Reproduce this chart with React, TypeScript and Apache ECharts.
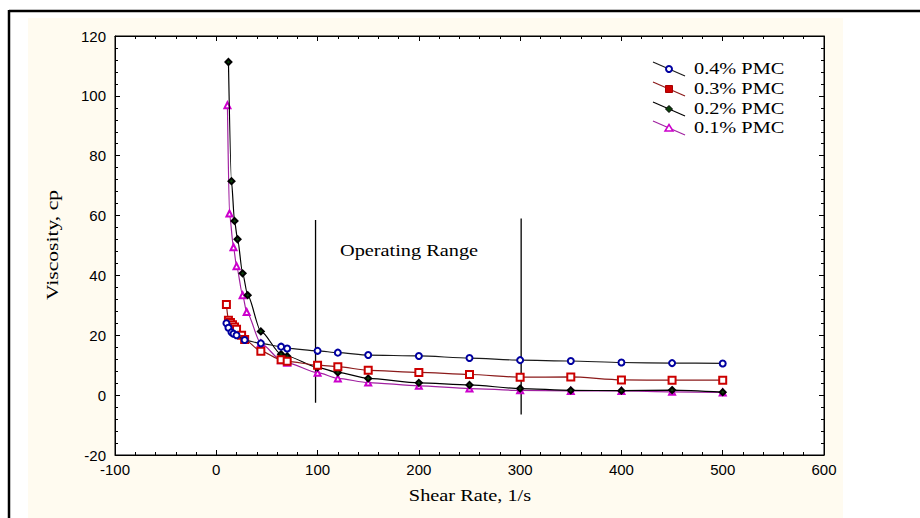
import React, { useEffect, useRef } from "react";
import * as echarts from "echarts";

// ---- data ----
const seriesNames = ["0.4% PMC", "0.3% PMC", "0.2% PMC", "0.1% PMC"];

const shear04 = [10, 12, 15, 17, 20, 28, 44, 64, 70, 100, 120, 150, 200, 250, 300, 350, 400, 450, 500];
const visc04 = [24, 22.5, 21, 20.5, 20, 18.4, 17.3, 16.2, 15.6, 14.8, 14.2, 13.4, 13.1, 12.4, 11.7, 11.4, 10.9, 10.7, 10.6];

const shear03 = [10, 12, 14, 16, 18, 20, 25, 28, 44, 64, 70, 100, 120, 150, 200, 250, 300, 350, 400, 450, 500];
const visc03 = [30.3, 25, 24.3, 23.5, 22.8, 22, 20, 18.6, 14.7, 11.8, 11.3, 10, 9.5, 8.3, 7.6, 6.9, 6, 6.1, 5.1, 5.0, 5.0];

const shear02 = [12, 15, 18, 21, 26, 31, 44, 64, 70, 100, 120, 150, 200, 250, 300, 350, 400, 450, 500];
const visc02 = [111.3, 71.5, 58.2, 52.1, 40.7, 33.4, 21.3, 13.7, 13, 9.3, 7.6, 5.6, 4.1, 3.4, 2.2, 1.6, 1.5, 1.7, 1.0];

const shear01 = [11, 13, 17, 20, 26, 30, 44, 64, 70, 100, 120, 150, 200, 250, 300, 350, 400, 450, 500];
const visc01 = [96.9, 60.7, 49.4, 43.1, 33.4, 27.8, 17.3, 11.7, 10.8, 7.5, 5.6, 4.2, 3.1, 2.2, 1.6, 1.4, 1.4, 1.1, 0.9];

// operating range boundary lines: [x, yTop, yBottom]
const rangeLow = [98, 58.5, -2.5];
const rangeHigh = [301, 59, -6.5];

const xTicks = { min: -100, max: 600, interval: 100 };
const yTicks = { min: -20, max: 120, interval: 20 };

const annotationText = "Operating Range";
const xTitle = "Shear Rate, 1/s";
const yTitle = "Viscosity, cp";

const zip = (xs: number[], ys: number[]) => xs.map((x, i) => [x, ys[i]]);

const SERIF = "'Liberation Serif', 'Times New Roman', serif";
const SANS = "Liberation Sans";

export default function App() {
  const ref = useRef<HTMLDivElement>(null);

  useEffect(() => {
    if (!ref.current) return;
    const chart = echarts.init(ref.current, undefined, { renderer: "svg" });

    const styles = [
      { line: "#1a1a1a", symbol: "circle", size: 6, fill: "#ffffff", border: "#0000a0" },
      { line: "#8b1a1a", symbol: "rect", size: 7, fill: "#ffffff", border: "#cc0000" },
      { line: "#000000", symbol: "diamond", size: 6, fill: "#0a400a", border: "#000000" },
      { line: "#a020a0", symbol: "triangle", size: 6, fill: "#ffffff", border: "#cc00cc" },
    ];
    const datasets = [zip(shear04, visc04), zip(shear03, visc03), zip(shear02, visc02), zip(shear01, visc01)];

    const dataSeries = datasets.map((d, i) => ({
      name: seriesNames[i],
      type: "line",
      data: d,
      smooth: 0.25,
      smoothMonotone: "x",
      symbol: styles[i].symbol,
      symbolSize: styles[i].size,
      lineStyle: { color: styles[i].line, width: 1.2 },
      itemStyle: { color: styles[i].fill, borderColor: styles[i].border, borderWidth: 2 },
      z: 3 + (3 - i),
    }));

    const rangeSeries = [rangeLow, rangeHigh].map((r) => ({
      type: "line",
      data: [
        [r[0], r[1]],
        [r[0], r[2]],
      ],
      symbol: "none",
      lineStyle: { color: "#000", width: 1.3 },
      z: 2,
      silent: true,
    }));

    const legendRows = [69, 89, 109, 128];
    const legendGraphics: any[] = [];
    legendRows.forEach((cy, i) => {
      legendGraphics.push({
        type: "line",
        shape: { x1: 653, y1: cy - 7, x2: 685, y2: cy + 7 },
        style: { stroke: styles[i].line, lineWidth: 1.2 },
      });
      const mx = 669;
      const my = cy;
      if (i === 0) {
        legendGraphics.push({ type: "circle", shape: { cx: mx, cy: my, r: 3 }, style: { fill: "#fff", stroke: styles[i].border, lineWidth: 2 } });
      } else if (i === 1) {
        legendGraphics.push({ type: "rect", shape: { x: mx - 3.5, y: my - 3.5, width: 7, height: 7 }, style: { fill: "#cc0000", stroke: "#aa0000", lineWidth: 1 } });
      } else if (i === 2) {
        legendGraphics.push({ type: "polygon", shape: { points: [[mx, my - 3.5], [mx + 3.5, my], [mx, my + 3.5], [mx - 3.5, my]] }, style: { fill: "#0a400a", stroke: "#000", lineWidth: 1 } });
      } else {
        legendGraphics.push({ type: "polygon", shape: { points: [[mx, my - 3.5], [mx + 4, my + 3], [mx - 4, my + 3]] }, style: { fill: "#fff", stroke: "#cc00cc", lineWidth: 1.5 } });
      }
      legendGraphics.push({
        type: "text",
        x: 694,
        y: cy,
        scaleX: 1.27,
        style: { text: seriesNames[i], font: `16px ${SERIF}`, fill: "#000", textAlign: "left", textVerticalAlign: "middle" },
      });
    });

    const axisCommon = {
      type: "value",
      axisLine: { show: true, onZero: false, lineStyle: { color: "#000", width: 1 } },
      axisTick: { show: true, inside: true, length: 5, lineStyle: { color: "#000" } },
      minorTick: { show: true, splitNumber: 5, length: 3, lineStyle: { color: "#000" } },
      splitLine: { show: false },
    };

    const option: any = {
      animation: false,
      backgroundColor: "#ffffff",
      grid: { left: 115, top: 36, width: 709, height: 419, show: true, backgroundColor: "#ffffff", borderColor: "#000", borderWidth: 1 },
      xAxis: [
        { ...axisCommon, ...xTicks, position: "bottom", axisLabel: { color: "#000", fontSize: 15, fontFamily: SANS, margin: 7 } },
        { ...axisCommon, ...xTicks, position: "top", axisLabel: { show: false } },
      ],
      yAxis: [
        { ...axisCommon, ...yTicks, position: "left", axisLabel: { color: "#000", fontSize: 15, fontFamily: SANS, margin: 9 } },
        { ...axisCommon, ...yTicks, position: "right", axisLabel: { show: false } },
      ],
      series: [...rangeSeries, ...dataSeries],
      graphic: [
        { type: "rect", z: -10, shape: { x: 28, y: 18, width: 815, height: 500 }, style: { fill: "#fffbf0" } },
        { type: "line", shape: { x1: 9, y1: 11, x2: 920, y2: 11 }, style: { stroke: "#000", lineWidth: 2.5 } },
        { type: "line", shape: { x1: 9, y1: 10, x2: 9, y2: 518 }, style: { stroke: "#000", lineWidth: 2.5 } },
        {
          type: "text",
          x: 340,
          y: 251,
          scaleX: 1.27,
          style: { text: annotationText, font: `16px ${SERIF}`, fill: "#000", textAlign: "left", textVerticalAlign: "middle" },
        },
        {
          type: "text",
          x: 470,
          y: 496,
          scaleX: 1.27,
          style: { text: xTitle, font: `16px ${SERIF}`, fill: "#000", textAlign: "center", textVerticalAlign: "middle" },
        },
        {
          type: "text",
          x: 53,
          y: 245,
          rotation: Math.PI / 2,
          scaleX: 1.35,
          style: { text: yTitle, font: `16px ${SERIF}`, fill: "#000", textAlign: "center", textVerticalAlign: "middle" },
        },
        ...legendGraphics,
      ],
    };

    chart.setOption(option);
    return () => chart.dispose();
  }, []);

  return <div ref={ref} style={{ position: "fixed", left: 0, top: 0, width: 920, height: 518 }} />;
}
